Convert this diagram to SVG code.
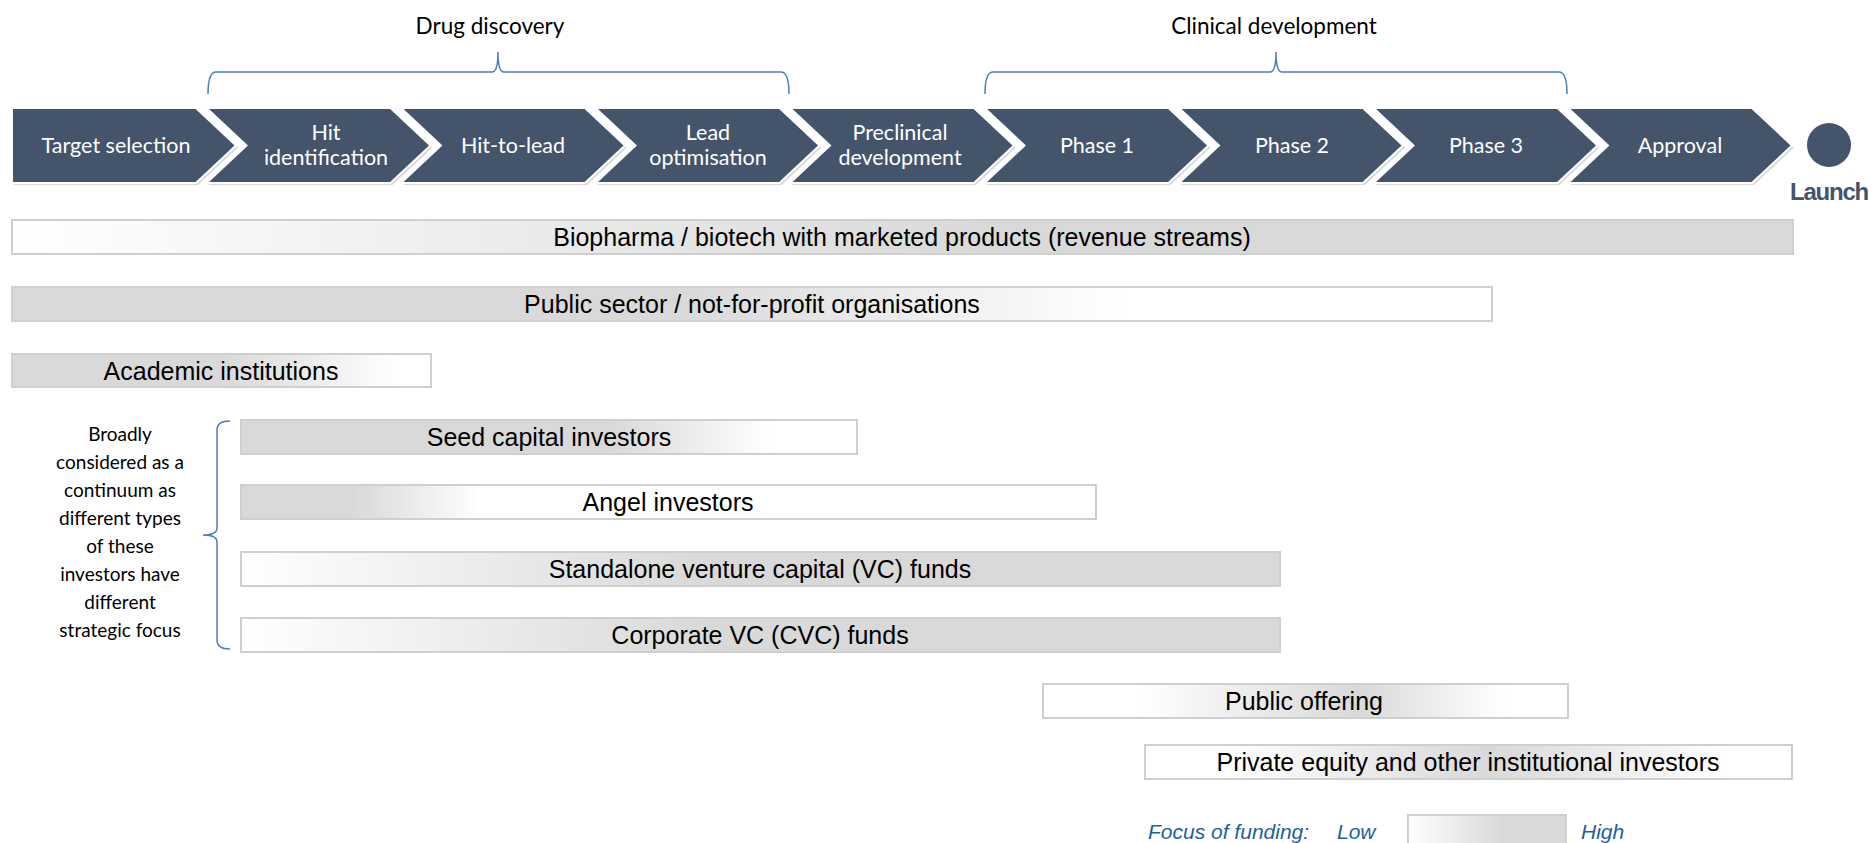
<svg xmlns="http://www.w3.org/2000/svg" width="1874" height="843" viewBox="0 0 1874 843">
  <style>
    .stage { fill: #44546A; stroke: #ffffff; stroke-width: 2; }
    .shadow { fill: #d9d9d9; }
    .stage-text { font-family: Lato, "Open Sans", sans-serif; font-size: 21.5px; fill: #ffffff; text-anchor: middle; }
    .phase-title { font-family: Lato, "Open Sans", sans-serif; font-size: 22.5px; fill: #000000; text-anchor: middle; }
    .brace { fill: none; stroke: #4A7EBB; stroke-width: 1.5; }
    .bar { stroke: #cfcfcf; stroke-width: 2; }
    .bar-text { font-family: "Liberation Sans", Arial, sans-serif; font-size: 25px; fill: #000000; text-anchor: middle; }
    .note { font-family: Lato, "Open Sans", sans-serif; font-size: 19px; fill: #000000; text-anchor: middle; }
    .legend { font-family: "Liberation Sans", Arial, sans-serif; font-size: 21px; font-style: italic; fill: #1F5F9E; }
  </style>
  <defs>
    <linearGradient id="gBio" x1="0" y1="0" x2="1" y2="0">
      <stop offset="0" stop-color="#ffffff"/>
      <stop offset="0.55" stop-color="#d9d9d9"/>
      <stop offset="1" stop-color="#d9d9d9"/>
    </linearGradient>
    <linearGradient id="gPub" x1="0" y1="0" x2="1" y2="0">
      <stop offset="0" stop-color="#d9d9d9"/>
      <stop offset="0.45" stop-color="#d9d9d9"/>
      <stop offset="0.75" stop-color="#ffffff"/>
      <stop offset="1" stop-color="#ffffff"/>
    </linearGradient>
    <linearGradient id="gAcad" x1="0" y1="0" x2="1" y2="0">
      <stop offset="0" stop-color="#d9d9d9"/>
      <stop offset="0.5" stop-color="#d9d9d9"/>
      <stop offset="0.92" stop-color="#ffffff"/>
      <stop offset="1" stop-color="#ffffff"/>
    </linearGradient>
    <linearGradient id="gSeed" x1="0" y1="0" x2="1" y2="0">
      <stop offset="0" stop-color="#d9d9d9"/>
      <stop offset="0.6" stop-color="#d9d9d9"/>
      <stop offset="0.86" stop-color="#ffffff"/>
      <stop offset="1" stop-color="#ffffff"/>
    </linearGradient>
    <linearGradient id="gAngel" x1="0" y1="0" x2="1" y2="0">
      <stop offset="0" stop-color="#d9d9d9"/>
      <stop offset="0.13" stop-color="#d9d9d9"/>
      <stop offset="0.28" stop-color="#ffffff"/>
      <stop offset="1" stop-color="#ffffff"/>
    </linearGradient>
    <linearGradient id="gVc" x1="0" y1="0" x2="1" y2="0">
      <stop offset="0" stop-color="#ffffff"/>
      <stop offset="0.45" stop-color="#d9d9d9"/>
      <stop offset="1" stop-color="#d9d9d9"/>
    </linearGradient>
    <linearGradient id="gPo" x1="0" y1="0" x2="1" y2="0">
      <stop offset="0" stop-color="#ffffff"/>
      <stop offset="0.18" stop-color="#ffffff"/>
      <stop offset="0.6" stop-color="#d9d9d9"/>
      <stop offset="0.88" stop-color="#ffffff"/>
      <stop offset="1" stop-color="#ffffff"/>
    </linearGradient>
    <linearGradient id="gPe" x1="0" y1="0" x2="1" y2="0">
      <stop offset="0" stop-color="#ffffff"/>
      <stop offset="0.12" stop-color="#ffffff"/>
      <stop offset="0.53" stop-color="#d9d9d9"/>
      <stop offset="0.9" stop-color="#ffffff"/>
      <stop offset="1" stop-color="#ffffff"/>
    </linearGradient>
    <linearGradient id="gLegend" x1="0" y1="0" x2="1" y2="0">
      <stop offset="0" stop-color="#ffffff"/>
      <stop offset="0.6" stop-color="#d9d9d9"/>
      <stop offset="1" stop-color="#d9d9d9"/>
    </linearGradient>
  </defs>

  <rect width="1874" height="843" fill="#ffffff"/>

  <!-- phase headings with braces -->
  <g id="drug-discovery">
    <text class="phase-title" x="490" y="34">Drug discovery</text>
    <path class="brace" d="M208,94 Q208,72 216,72 L492,72 Q498,72 498,52 Q498,72 504,72 L781,72 Q789,72 789,94"/>
  </g>
  <g id="clinical-development">
    <text class="phase-title" x="1274" y="34">Clinical development</text>
    <path class="brace" d="M985,94 Q985,72 993,72 L1270,72 Q1276,72 1276,52 Q1276,72 1282,72 L1559,72 Q1567,72 1567,94"/>
  </g>

  <!-- stage chevrons -->
  <g id="stage-target">
    <path class="shadow" d="M14,110 L198,110 L238,147.5 L198,185 L14,185 Z"/>
    <path class="stage" d="M12,108 L196,108 L236,145.5 L196,183 L12,183 Z"/>
    <text class="stage-text" x="116" y="153">Target selection</text>
  </g>
  <g id="stage-hit-id">
    <path class="shadow" d="M208.5,110 L392.5,110 L432.5,147.5 L392.5,185 L208.5,185 L248.5,147.5 Z"/>
    <path class="stage" d="M206.5,108 L390.5,108 L430.5,145.5 L390.5,183 L206.5,183 L246.5,145.5 Z"/>
    <text class="stage-text" x="326" y="140">Hit</text>
    <text class="stage-text" x="326" y="165">identification</text>
  </g>
  <g id="stage-hit-to-lead">
    <path class="shadow" d="M403,110 L587,110 L627,147.5 L587,185 L403,185 L443,147.5 Z"/>
    <path class="stage" d="M401,108 L585,108 L625,145.5 L585,183 L401,183 L441,145.5 Z"/>
    <text class="stage-text" x="513" y="153">Hit-to-lead</text>
  </g>
  <g id="stage-lead-opt">
    <path class="shadow" d="M597.5,110 L781.5,110 L821.5,147.5 L781.5,185 L597.5,185 L637.5,147.5 Z"/>
    <path class="stage" d="M595.5,108 L779.5,108 L819.5,145.5 L779.5,183 L595.5,183 L635.5,145.5 Z"/>
    <text class="stage-text" x="708" y="140">Lead</text>
    <text class="stage-text" x="708" y="165">optimisation</text>
  </g>
  <g id="stage-preclinical">
    <path class="shadow" d="M792,110 L976,110 L1016,147.5 L976,185 L792,185 L832,147.5 Z"/>
    <path class="stage" d="M790,108 L974,108 L1014,145.5 L974,183 L790,183 L830,145.5 Z"/>
    <text class="stage-text" x="900" y="140">Preclinical</text>
    <text class="stage-text" x="900" y="165">development</text>
  </g>
  <g id="stage-phase1">
    <path class="shadow" d="M986.5,110 L1170.5,110 L1210.5,147.5 L1170.5,185 L986.5,185 L1026.5,147.5 Z"/>
    <path class="stage" d="M984.5,108 L1168.5,108 L1208.5,145.5 L1168.5,183 L984.5,183 L1024.5,145.5 Z"/>
    <text class="stage-text" x="1097" y="153">Phase 1</text>
  </g>
  <g id="stage-phase2">
    <path class="shadow" d="M1181,110 L1365,110 L1405,147.5 L1365,185 L1181,185 L1221,147.5 Z"/>
    <path class="stage" d="M1179,108 L1363,108 L1403,145.5 L1363,183 L1179,183 L1219,145.5 Z"/>
    <text class="stage-text" x="1292" y="153">Phase 2</text>
  </g>
  <g id="stage-phase3">
    <path class="shadow" d="M1375.5,110 L1559.5,110 L1599.5,147.5 L1559.5,185 L1375.5,185 L1415.5,147.5 Z"/>
    <path class="stage" d="M1373.5,108 L1557.5,108 L1597.5,145.5 L1557.5,183 L1373.5,183 L1413.5,145.5 Z"/>
    <text class="stage-text" x="1486" y="153">Phase 3</text>
  </g>
  <g id="stage-approval">
    <path class="shadow" d="M1570,110 L1754,110 L1794,147.5 L1754,185 L1570,185 L1610,147.5 Z"/>
    <path class="stage" d="M1568,108 L1752,108 L1792,145.5 L1752,183 L1568,183 L1608,145.5 Z"/>
    <text class="stage-text" x="1680" y="153">Approval</text>
  </g>
  <g id="launch">
    <circle cx="1829" cy="145" r="22" fill="#44546A"/>
    <text x="1829" y="200" font-family="'Liberation Sans', Arial, sans-serif" font-size="24" font-weight="bold" letter-spacing="-1.2" fill="#44546A" text-anchor="middle">Launch</text>
  </g>

  <!-- funding sources -->
  <g id="biopharma">
    <rect class="bar" x="12" y="220" width="1781" height="34" fill="url(#gBio)"/>
    <text class="bar-text" x="902" y="246">Biopharma / biotech with marketed products (revenue streams)</text>
  </g>
  <g id="public-sector">
    <rect class="bar" x="12" y="287" width="1480" height="34" fill="url(#gPub)"/>
    <text class="bar-text" x="752" y="313">Public sector / not-for-profit organisations</text>
  </g>
  <g id="academic">
    <rect class="bar" x="12" y="354" width="419" height="33" fill="url(#gAcad)"/>
    <text class="bar-text" x="221" y="380">Academic institutions</text>
  </g>

  <g id="continuum-note">
    <path class="brace" d="M230,421 Q217,421 217,430 L217,528 Q217,535 203,535 Q217,535 217,542 L217,640 Q217,649 230,649"/>
    <text class="note" x="120" y="441">Broadly</text>
    <text class="note" x="120" y="469">considered as a</text>
    <text class="note" x="120" y="497">continuum as</text>
    <text class="note" x="120" y="525">different types</text>
    <text class="note" x="120" y="553">of these</text>
    <text class="note" x="120" y="581">investors have</text>
    <text class="note" x="120" y="609">different</text>
    <text class="note" x="120" y="637">strategic focus</text>
  </g>

  <g id="seed-capital">
    <rect class="bar" x="241" y="420" width="616" height="34" fill="url(#gSeed)"/>
    <text class="bar-text" x="549" y="446">Seed capital investors</text>
  </g>
  <g id="angel">
    <rect class="bar" x="241" y="485" width="855" height="34" fill="url(#gAngel)"/>
    <text class="bar-text" x="668" y="511">Angel investors</text>
  </g>
  <g id="standalone-vc">
    <rect class="bar" x="241" y="552" width="1039" height="34" fill="url(#gVc)"/>
    <text class="bar-text" x="760" y="578">Standalone venture capital (VC) funds</text>
  </g>
  <g id="corporate-vc">
    <rect class="bar" x="241" y="618" width="1039" height="34" fill="url(#gVc)"/>
    <text class="bar-text" x="760" y="644">Corporate VC (CVC) funds</text>
  </g>
  <g id="public-offering">
    <rect class="bar" x="1043" y="684" width="525" height="34" fill="url(#gPo)"/>
    <text class="bar-text" x="1304" y="710">Public offering</text>
  </g>
  <g id="private-equity">
    <rect class="bar" x="1145" y="745" width="647" height="34" fill="url(#gPe)"/>
    <text class="bar-text" x="1468" y="771">Private equity and other institutional investors</text>
  </g>

  <!-- legend -->
  <g id="legend">
    <text class="legend" x="1148" y="839">Focus of funding:</text>
    <text class="legend" x="1337" y="839">Low</text>
    <rect class="bar" x="1408" y="815" width="158" height="34" fill="url(#gLegend)"/>
    <text class="legend" x="1581" y="839">High</text>
  </g>
</svg>
